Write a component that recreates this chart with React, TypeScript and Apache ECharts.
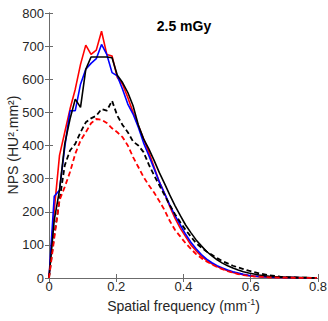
import React, { useEffect, useRef } from "react";
import * as echarts from "echarts";

// Spatial frequency step (mm^-1): samples at i/64
const freqStep = 1 / 64;

const redSolid = [0, 205, 370, 440, 510, 570, 645, 703, 675, 688, 745, 675, 670, 605, 585, 545, 500, 460, 420, 380, 335, 290, 255, 215, 180, 150, 125, 100, 82, 66, 53, 43, 35, 28, 22, 17, 13, 10, 7, 5, 4, 3, 2, 2, 1, 1, 1, 1, 0.5, 0.5, 0.5, 0.5];
const blueSolid = [0, 247, 265, 395, 505, 505, 585, 630, 648, 662, 705, 675, 620, 610, 570, 525, 495, 455, 408, 370, 330, 290, 255, 220, 188, 160, 132, 108, 88, 71, 57, 46, 37, 30, 24, 19, 15, 11, 8, 6, 5, 4, 3, 2, 2, 1, 1, 1, 0.5, 0.5, 0.5, 0.5];
const blackSolid = [0, 175, 265, 405, 480, 540, 515, 630, 667, 667, 667, 667, 665, 612, 590, 560, 520, 462, 420, 390, 355, 318, 285, 250, 218, 188, 160, 137, 115, 97, 80, 67, 55, 45, 37, 30, 24, 19, 15, 12, 9, 7, 5, 4, 3, 2, 2, 1, 1, 1, 0.5, 0.5];
const blackDashed = [0, 130, 235, 340, 385, 405, 440, 470, 482, 490, 510, 505, 535, 490, 462, 440, 412, 400, 380, 342, 310, 280, 250, 220, 192, 168, 145, 125, 105, 92, 80, 70, 60, 51, 44, 37, 32, 27, 22, 18, 14, 11, 8, 6, 4, 3, 2, 1.5, 1, 1, 0.5, 0.5];
const redDashed = [0, 120, 235, 275, 320, 375, 415, 440, 467, 480, 478, 468, 452, 440, 425, 400, 365, 335, 305, 280, 258, 232, 205, 172, 145, 125, 105, 88, 72, 60, 50, 41, 33, 27, 21, 16, 12, 9, 7, 5, 4, 3, 2, 2, 1, 1, 1, 0.5, 0.5, 0.5, 0.5, 0.5];

const xTicks = [0, 0.2, 0.4, 0.6, 0.8];
const yTicks = [0, 100, 200, 300, 400, 500, 600, 700, 800];

const toPairs = (arr: number[]) => arr.map((v, i) => [i * freqStep, v]);

const FONT = "'Liberation Sans', Arial, Helvetica, sans-serif";
const AXIS_COLOR = "#6b6b6b";
const LABEL_COLOR = "#262626";

export default function App() {
  const ref = useRef<HTMLDivElement>(null);
  useEffect(() => {
    if (!ref.current) return;
    const chart = echarts.init(ref.current, undefined, { renderer: "svg" });
    const axisCommon = {
      axisLine: { show: true, lineStyle: { color: AXIS_COLOR, width: 1 } },
      axisTick: { show: true, inside: true, length: 4, lineStyle: { color: AXIS_COLOR } },
      splitLine: { show: false },
    };
    const line = (name: string, data: number[], color: string, dashed: boolean) => ({
      name,
      type: "line",
      data: toPairs(data),
      showSymbol: false,
      symbol: "none",
      lineStyle: { color, width: dashed ? 1.8 : 1.6, type: dashed ? [5, 3] : "solid" },
      z: 2,
    });
    chart.setOption({
      animation: false,
      textStyle: { fontFamily: FONT },
      grid: { left: 49, right: 10, top: 13, bottom: 43, containLabel: false, outerBoundsMode: "none" },
      xAxis: [
        {
          type: "value",
          position: "bottom",
          min: xTicks[0],
          max: xTicks[xTicks.length - 1],
          interval: 0.2,
          ...axisCommon,
          axisLabel: {
            fontSize: 13,
            color: LABEL_COLOR,
            margin: 2,
            fontFamily: FONT,
            formatter: (v: number) => String(Number(v.toFixed(1))),
          },
          name: "{a|Spatial frequency (mm}{s|-1}{a|)}",
          nameLocation: "middle",
          nameGap: 18,
          nameTextStyle: {
            fontFamily: FONT,
            rich: {
              a: { fontSize: 14, color: LABEL_COLOR, fontFamily: FONT },
              s: { fontSize: 9, color: LABEL_COLOR, fontFamily: FONT, padding: [0, 0, 8, 0] },
            },
          },
        },
        {
          type: "value",
          position: "top",
          min: xTicks[0],
          max: xTicks[xTicks.length - 1],
          interval: 0.2,
          ...axisCommon,
          axisLabel: { show: false },
        },
      ],
      yAxis: [
        {
          type: "value",
          position: "left",
          min: yTicks[0],
          max: yTicks[yTicks.length - 1],
          interval: 100,
          ...axisCommon,
          axisLabel: { fontSize: 13, color: LABEL_COLOR, margin: 5, fontFamily: FONT },
        },
        {
          type: "value",
          position: "right",
          min: yTicks[0],
          max: yTicks[yTicks.length - 1],
          interval: 100,
          ...axisCommon,
          axisLabel: { show: false },
        },
      ],
      graphic: [
        {
          type: "text",
          x: 184,
          y: 26,
          style: {
            text: "2.5 mGy",
            fontSize: 14,
            fontWeight: "bold",
            fontFamily: FONT,
            fill: "#000",
            align: "center",
            verticalAlign: "middle",
          },
        },
        {
          type: "text",
          x: 13,
          y: 145,
          rotation: Math.PI / 2,
          style: {
            text: "NPS (HU².mm²)",
            fontSize: 14,
            fontFamily: FONT,
            fill: LABEL_COLOR,
            align: "center",
            verticalAlign: "middle",
          },
        },
      ],
      series: [
        line("red", redSolid, "#ff0000", false),
        line("blue", blueSolid, "#0000ff", false),
        line("black", blackSolid, "#000000", false),
        line("blackDashed", blackDashed, "#000000", true),
        line("redDashed", redDashed, "#ff0000", true),
      ],
    });
    return () => chart.dispose();
  }, []);
  return (
    <div
      ref={ref}
      style={{ position: "fixed", left: 0, top: 0, width: 328, height: 321, background: "#fff" }}
    />
  );
}
